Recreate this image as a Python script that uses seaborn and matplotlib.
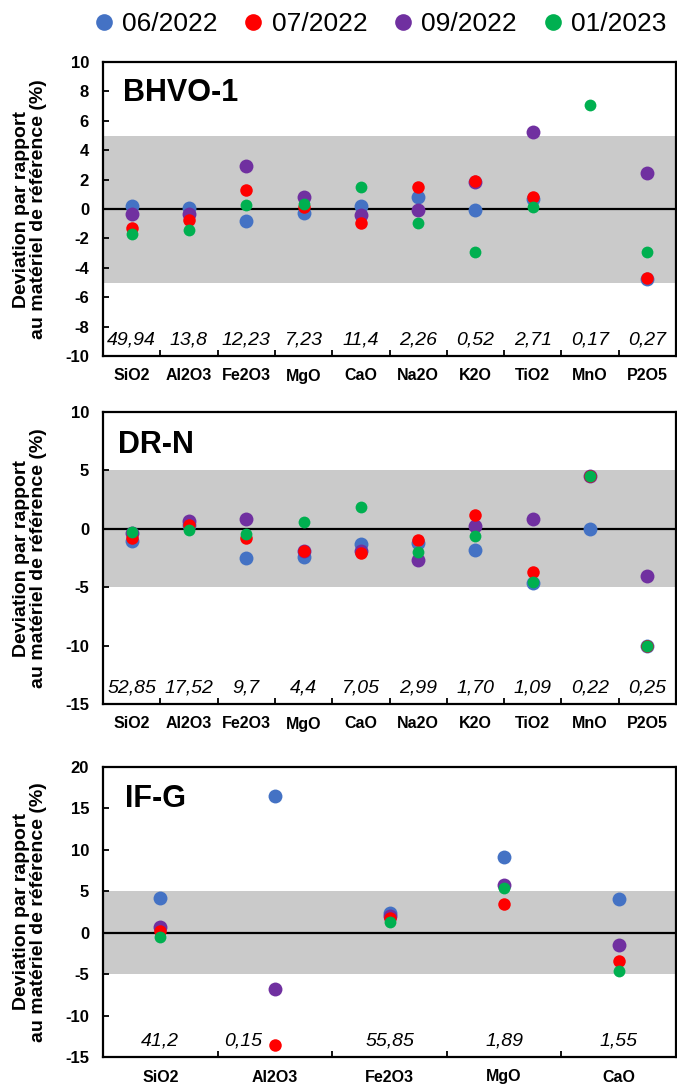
import numpy as np
import pandas as pd
import matplotlib
matplotlib.use("Agg")
import matplotlib.pyplot as plt
from matplotlib.lines import Line2D
import seaborn as sns

sns.set_theme(style="white")
plt.rcParams['font.family'] = ['Liberation Sans', 'DejaVu Sans']
plt.rcParams['text.color'] = 'black'
plt.rcParams['xtick.color'] = 'black'
plt.rcParams['ytick.color'] = 'black'

series = ["06/2022", "07/2022", "09/2022", "01/2023"]
colors = {"06/2022": "#4472C4", "07/2022": "#FF0000", "09/2022": "#7030A0", "01/2023": "#00B050"}
draw_order = ["06/2022", "09/2022", "07/2022", "01/2023"]
msize = {"06/2022": 10.0, "09/2022": 10.0, "07/2022": 9.0, "01/2023": 8.5}

# BHVO-1
bhvo_cats = ["SiO2", "Al2O3", "Fe2O3", "MgO", "CaO", "Na2O", "K2O", "TiO2", "MnO", "P2O5"]
bhvo_ref = ["49,94", "13,8", "12,23", "7,23", "11,4", "2,26", "0,52", "2,71", "0,17", "0,27"]
bhvo_0622 = [0.23, 0.09, -0.79, -0.29, 0.20, 0.84, -0.09, 0.66, np.nan, -4.76]
bhvo_0722 = [-1.27, -0.75, 1.29, 0.14, -0.93, 1.47, 1.90, 0.84, np.nan, -4.70]
bhvo_0922 = [-0.36, -0.34, 2.95, 0.79, -0.43, -0.07, 1.84, 5.26, np.nan, 2.47]
bhvo_0123 = [-1.70, -1.43, 0.29, 0.34, 1.52, -0.95, -2.90, 0.14, 7.05, -2.95]

# DR-N
drn_cats = ["SiO2", "Al2O3", "Fe2O3", "MgO", "CaO", "Na2O", "K2O", "TiO2", "MnO", "P2O5"]
drn_ref = ["52,85", "17,52", "9,7", "4,4", "7,05", "2,99", "1,70", "1,09", "0,22", "0,25"]
drn_0622 = [-1.08, 0.30, -2.51, -2.43, -1.31, -1.20, -1.80, -4.65, 0.0, -10.0]
drn_0722 = [-0.80, 0.34, -0.80, -1.94, -2.03, -0.97, 1.14, -3.68, 4.48, -10.0]
drn_0922 = [-0.40, 0.66, 0.86, -1.86, -1.94, -2.71, 0.26, 0.88, 4.48, -4.02]
drn_0123 = [-0.31, -0.06, -0.46, 0.54, 1.83, -2.00, -0.60, -4.57, 4.48, -10.0]

# IF-G
ifg_cats = ["SiO2", "Al2O3", "Fe2O3", "MgO", "CaO"]
ifg_ref = ["41,2", "0,15", "55,85", "1,89", "1,55"]
ifg_0622 = [4.14, 16.45, 2.33, 9.09, 4.06]
ifg_0722 = [0.20, -13.56, 1.81, 3.50, -3.42]
ifg_0922 = [0.68, -6.84, 2.00, 5.75, -1.45]
ifg_0123 = [-0.48, np.nan, 1.33, 5.35, -4.63]

panels = [
    dict(name="BHVO-1", cats=bhvo_cats, ref=bhvo_ref,
         vals={"06/2022": bhvo_0622, "07/2022": bhvo_0722, "09/2022": bhvo_0922, "01/2023": bhvo_0123},
         ylim=(-10, 10), yticks=np.arange(-10, 11, 2), rect=[103/677, 1-356/1085, 573/677, 294/1085],
         title_pos=(0.035, 0.945), ref_shift={}),
    dict(name="DR-N", cats=drn_cats, ref=drn_ref,
         vals={"06/2022": drn_0622, "07/2022": drn_0722, "09/2022": drn_0922, "01/2023": drn_0123},
         ylim=(-15, 10), yticks=np.arange(-15, 11, 5), rect=[103/677, 1-704/1085, 573/677, 292/1085],
         title_pos=(0.026, 0.94), ref_shift={}),
    dict(name="IF-G", cats=ifg_cats, ref=ifg_ref,
         vals={"06/2022": ifg_0622, "07/2022": ifg_0722, "09/2022": ifg_0922, "01/2023": ifg_0123},
         ylim=(-15, 20), yticks=np.arange(-15, 21, 5), rect=[103/677, 1-1057/1085, 573/677, 290/1085],
         title_pos=(0.038, 0.94), ref_shift={1: -0.28}),
]

fig = plt.figure(figsize=(6.77, 10.85), dpi=100)

for p in panels:
    ax = fig.add_axes(p["rect"])
    n = len(p["cats"])
    ax.axhspan(-5, 5, color="#CACACA", lw=0, zorder=0)
    ax.axhline(0, color="black", lw=1.6, zorder=1)
    for s in draw_order:
        df = pd.DataFrame({"x": np.arange(n), "y": p["vals"][s]}).dropna()
        sns.scatterplot(data=df, x="x", y="y", ax=ax, color=colors[s],
                        s=msize[s] ** 2, linewidth=0, zorder=3, legend=False)
    ax.set_xlim(-0.5, n - 0.5)
    ax.set_ylim(*p["ylim"])
    ax.set_yticks(p["yticks"])
    ax.set_yticklabels([str(int(v)) for v in p["yticks"]], fontsize=12, fontweight="bold")
    ax.set_xticks(np.arange(n))
    ax.set_xticklabels(p["cats"], fontsize=11.5, fontweight="bold")
    ax.set_xticks(np.arange(n - 1) + 0.5, minor=True)
    ax.tick_params(axis="x", which="major", length=0, pad=9)
    ax.tick_params(axis="x", which="minor", direction="in", length=4, width=1.3, color="black", bottom=True)
    ax.tick_params(axis="y", direction="in", length=4, width=1.3, color="black", left=True, pad=10)
    ax.set_xlabel("")
    ax.set_ylabel("")
    for sp in ax.spines.values():
        sp.set_color("black")
        sp.set_linewidth(1.6)
    for i, r in enumerate(p["ref"]):
        ax.text(i + p["ref_shift"].get(i, 0), 0.027, r, transform=ax.get_xaxis_transform(),
                ha="center", va="bottom", fontsize=14, fontstyle="italic", zorder=4)
    ax.text(p["title_pos"][0], p["title_pos"][1], p["name"], transform=ax.transAxes,
            ha="left", va="top", fontsize=22, fontweight="bold")
    r = p["rect"]
    fig.text(30/677, r[1] + r[3] / 2, "Deviation par rapport\nau matériel de référence (%)",
             rotation=90, ha="center", va="center", multialignment="center",
             fontsize=14, fontweight="bold", linespacing=1.0)

handles = [Line2D([], [], marker="o", linestyle="", markersize=12, markeredgewidth=0,
                  color=colors[s]) for s in series]
fig.legend(handles, series, loc="center right", bbox_to_anchor=(1.0, 0.978), ncol=4,
           frameon=False, fontsize=19, handletextpad=0.35, columnspacing=1.0,
           handlelength=0.7, borderaxespad=0)

fig.savefig("out.png", dpi=100)
